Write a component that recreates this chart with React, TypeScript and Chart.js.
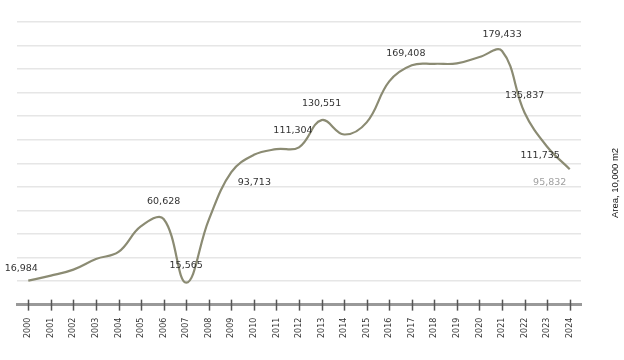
import React, { useEffect, useRef } from "react";
import { Chart, registerables } from "chart.js";

Chart.register(...registerables);

const years = [
  "2000", "2001", "2002", "2003", "2004", "2005", "2006", "2007", "2008", "2009",
  "2010", "2011", "2012", "2013", "2014", "2015", "2016", "2017", "2018", "2019",
  "2020", "2021", "2022", "2023", "2024",
];

const area = [
  16984, 20500, 24800, 32300, 37300, 55500, 60628, 15565, 60000, 93713,
  106000, 110000, 111304, 130551, 120400, 129000, 158000, 169408, 170400, 170700,
  175200, 179433, 135837, 111735, 95832,
];

// which points carry a value label
const labeledYears = ["2000", "2006", "2007", "2009", "2012", "2013", "2017", "2021", "2022", "2023", "2024"];
// label placement relative to the point (style only)
const labelShift: Record<string, [number, number]> = {
  "2000": [-7, -12],
  "2006": [0, -17],
  "2007": [0, -17],
  "2009": [23, 10],
  "2012": [-6, -17],
  "2013": [0, -17],
  "2017": [-6, -12],
  "2021": [0, -17],
  "2022": [0, -17],
  "2023": [-7, 9],
  "2024": [-20, 13],
};
const mutedLabels = ["2024"];

const axisTitle = "Area, 10,000 m2";
const yMax = 200000;

const fmt = (v: number) => v.toLocaleString("en-US");

const overlayPlugin = {
  id: "overlay",
  afterDatasetsDraw(chart: any) {
    const { ctx, chartArea, scales } = chart;
    const meta = chart.getDatasetMeta(0);
    const xs = scales.x;
    ctx.save();
    // tick marks crossing the axis
    ctx.strokeStyle = "#555";
    ctx.lineWidth = 1.5;
    years.forEach((_, i) => {
      const x = Math.round(xs.getPixelForValue(i)) + 0.5;
      ctx.beginPath();
      ctx.moveTo(x, chartArea.bottom - 5);
      ctx.lineTo(x, chartArea.bottom + 6);
      ctx.stroke();
    });
    // value labels
    ctx.font = "9.5px 'DejaVu Sans'";
    ctx.textAlign = "center";
    ctx.textBaseline = "middle";
    labeledYears.forEach((yr) => {
      const i = years.indexOf(yr);
      const pt = meta.data[i];
      const [dx, dy] = labelShift[yr] || [0, -15];
      ctx.fillStyle = mutedLabels.includes(yr) ? "#a0a0a0" : "#333";
      ctx.fillText(fmt(area[i]), pt.x + dx, pt.y + dy);
    });
    // right axis title, reading bottom-to-top
    ctx.translate(615, 183);
    ctx.rotate(-Math.PI / 2);
    ctx.font = "9.5px 'Liberation Sans'";
    ctx.fillStyle = "#111";
    ctx.fillText(axisTitle, 0, 0);
    ctx.restore();
  },
};

export default function App() {
  const ref = useRef<HTMLCanvasElement | null>(null);
  useEffect(() => {
    if (!ref.current) return;
    const chart = new Chart(ref.current, {
      type: "line",
      data: {
        labels: years,
        datasets: [
          {
            data: area,
            borderColor: "#8b8b73",
            borderWidth: 2.2,
            pointRadius: 0,
            tension: 0.4,
            fill: false,
          },
        ],
      },
      options: {
        animation: false,
        responsive: false,
        layout: { padding: { left: 17, right: 43, top: 22, bottom: 9 } },
        plugins: { legend: { display: false }, tooltip: { enabled: false } },
        scales: {
          x: {
            type: "category",
            offset: true,
            grid: { display: false, drawTicks: false },
            border: { display: true, color: "#999", width: 3 },
            ticks: {
              autoSkip: false,
              maxRotation: 90,
              minRotation: 90,
              padding: 13,
              color: "#333",
              font: { family: "'DejaVu Sans'", size: 8 },
            },
          },
          y: {
            min: 0,
            max: yMax,
            ticks: { display: false, count: 13 },
            grid: { color: "#e6e6e6", lineWidth: 1.5, drawTicks: false },
            border: { display: false },
          },
        },
      },
      plugins: [overlayPlugin],
    });
    return () => chart.destroy();
  }, []);
  return (
    <div style={{ position: "fixed", left: 0, top: 0, width: 624, height: 360, background: "#fff" }}>
      <canvas ref={ref} width={624} height={360} />
    </div>
  );
}
